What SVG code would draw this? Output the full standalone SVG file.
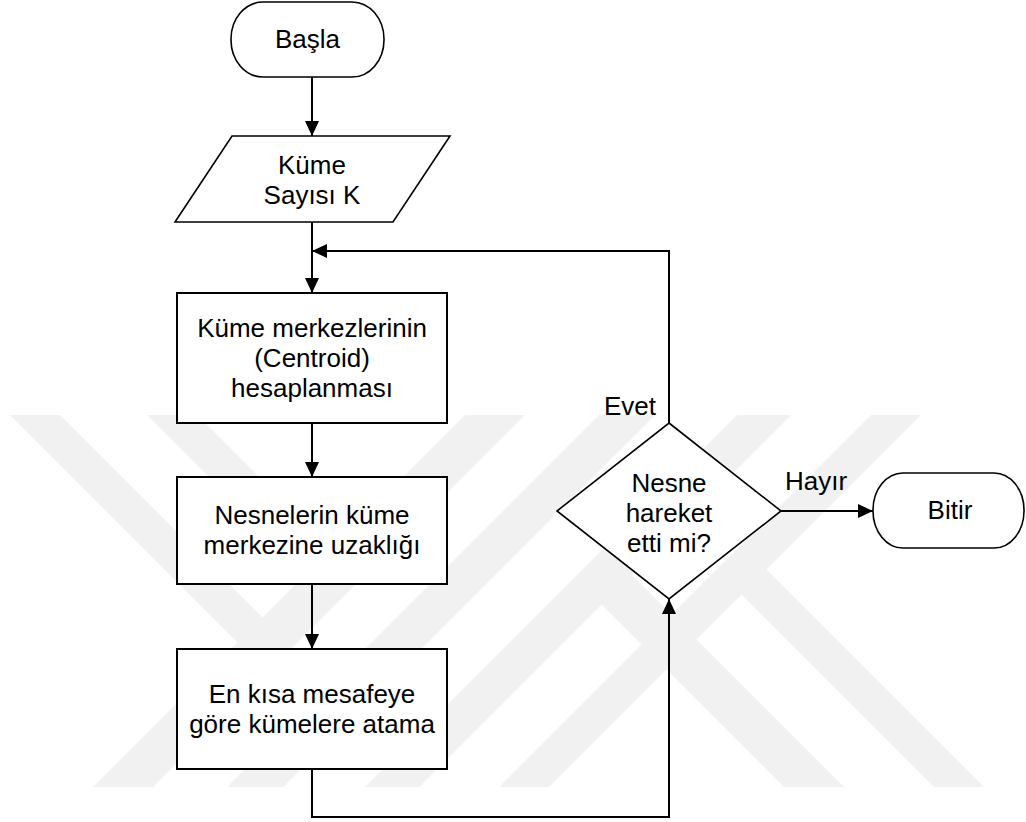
<svg xmlns="http://www.w3.org/2000/svg" width="1026" height="822" viewBox="0 0 1026 822">
  <style>
    .wm { fill: #f1f1f1; stroke: none; }
    .shape { fill: #ffffff; stroke: #000000; stroke-width: 2; }
    .thin { stroke-width: 1.6; }
    .conn { fill: none; stroke: #000000; stroke-width: 2; }
    text { font-family: "Liberation Sans", Arial, sans-serif; font-size: 26px; fill: #000000; }
    .c { text-anchor: middle; }
  </style>
  <defs>
    <marker id="arrow" markerUnits="userSpaceOnUse" markerWidth="15" markerHeight="14" refX="15" refY="7" orient="auto">
      <path d="M0,0 L15,7 L0,14 Z" fill="#000000"/>
    </marker>
  </defs>

  <rect width="1026" height="822" fill="#ffffff"/>

  <!-- faint background emblem -->
  <g id="emblem">
    <polygon class="wm" points="10,415 60,415 292.5,647.5 267.5,672.5"/>
    <polygon class="wm" points="147,415 197,415 361,579 336,604"/>
    <polygon class="wm" points="465,415 525,415 153,787 93,787"/>
    <polygon class="wm" points="599,415 655,415 283,787 227,787"/>
    <polygon class="wm" points="737,415 791,415 419,787 365,787"/>
    <polygon class="wm" points="871,415 921,415 549,787 499,787"/>
    <polygon class="wm" points="618,561 844,787 784,787 588,591"/>
    <polygon class="wm" points="754,557 984,787 934,787 729,582"/>
  </g>

  <!-- connectors -->
  <g id="connectors">
    <path class="conn" d="M312,77 L312,136" marker-end="url(#arrow)"/>
    <path class="conn" d="M312,222 L312,293" marker-end="url(#arrow)"/>
    <path class="conn" d="M312,423 L312,477" marker-end="url(#arrow)"/>
    <path class="conn" d="M312,584 L312,649" marker-end="url(#arrow)"/>
    <path class="conn" d="M312,769 L312,817 L669,817 L669,599" marker-end="url(#arrow)"/>
    <path class="conn" d="M669,423 L669,251 L312,251" marker-end="url(#arrow)"/>
    <path class="conn" d="M781,511 L873,511" marker-end="url(#arrow)"/>
    <text x="604" y="415">Evet</text>
    <text x="785" y="490">Hayır</text>
  </g>

  <g id="start">
    <rect class="shape thin" x="231" y="2" width="153" height="75" rx="32" ry="37"/>
    <text class="c" x="307.5" y="48">Başla</text>
  </g>

  <g id="input-k">
    <polygon class="shape thin" points="232,136 450,136 393,222 175,222"/>
    <text class="c" x="312" y="174">Küme</text>
    <text class="c" x="312" y="204">Sayısı K</text>
  </g>

  <g id="centroids">
    <rect class="shape" x="177" y="293" width="270" height="130"/>
    <text class="c" x="312" y="337">Küme merkezlerinin</text>
    <text class="c" x="312" y="367">(Centroid)</text>
    <text class="c" x="312" y="397">hesaplanması</text>
  </g>

  <g id="distance">
    <rect class="shape" x="177" y="477" width="270" height="107"/>
    <text class="c" x="312" y="524">Nesnelerin küme</text>
    <text class="c" x="312" y="554">merkezine uzaklığı</text>
  </g>

  <g id="assign">
    <rect class="shape" x="177" y="649" width="270" height="120"/>
    <text class="c" x="312" y="703">En kısa mesafeye</text>
    <text class="c" x="312" y="733">göre kümelere atama</text>
  </g>

  <g id="decision">
    <polygon class="shape thin" points="669,423 781,511 669,599 557,511"/>
    <text class="c" x="669" y="492">Nesne</text>
    <text class="c" x="669" y="522">hareket</text>
    <text class="c" x="669" y="552">etti mi?</text>
  </g>

  <g id="end">
    <rect class="shape thin" x="873" y="473" width="151" height="75" rx="30" ry="37"/>
    <text class="c" x="950" y="519">Bitir</text>
  </g>
</svg>
